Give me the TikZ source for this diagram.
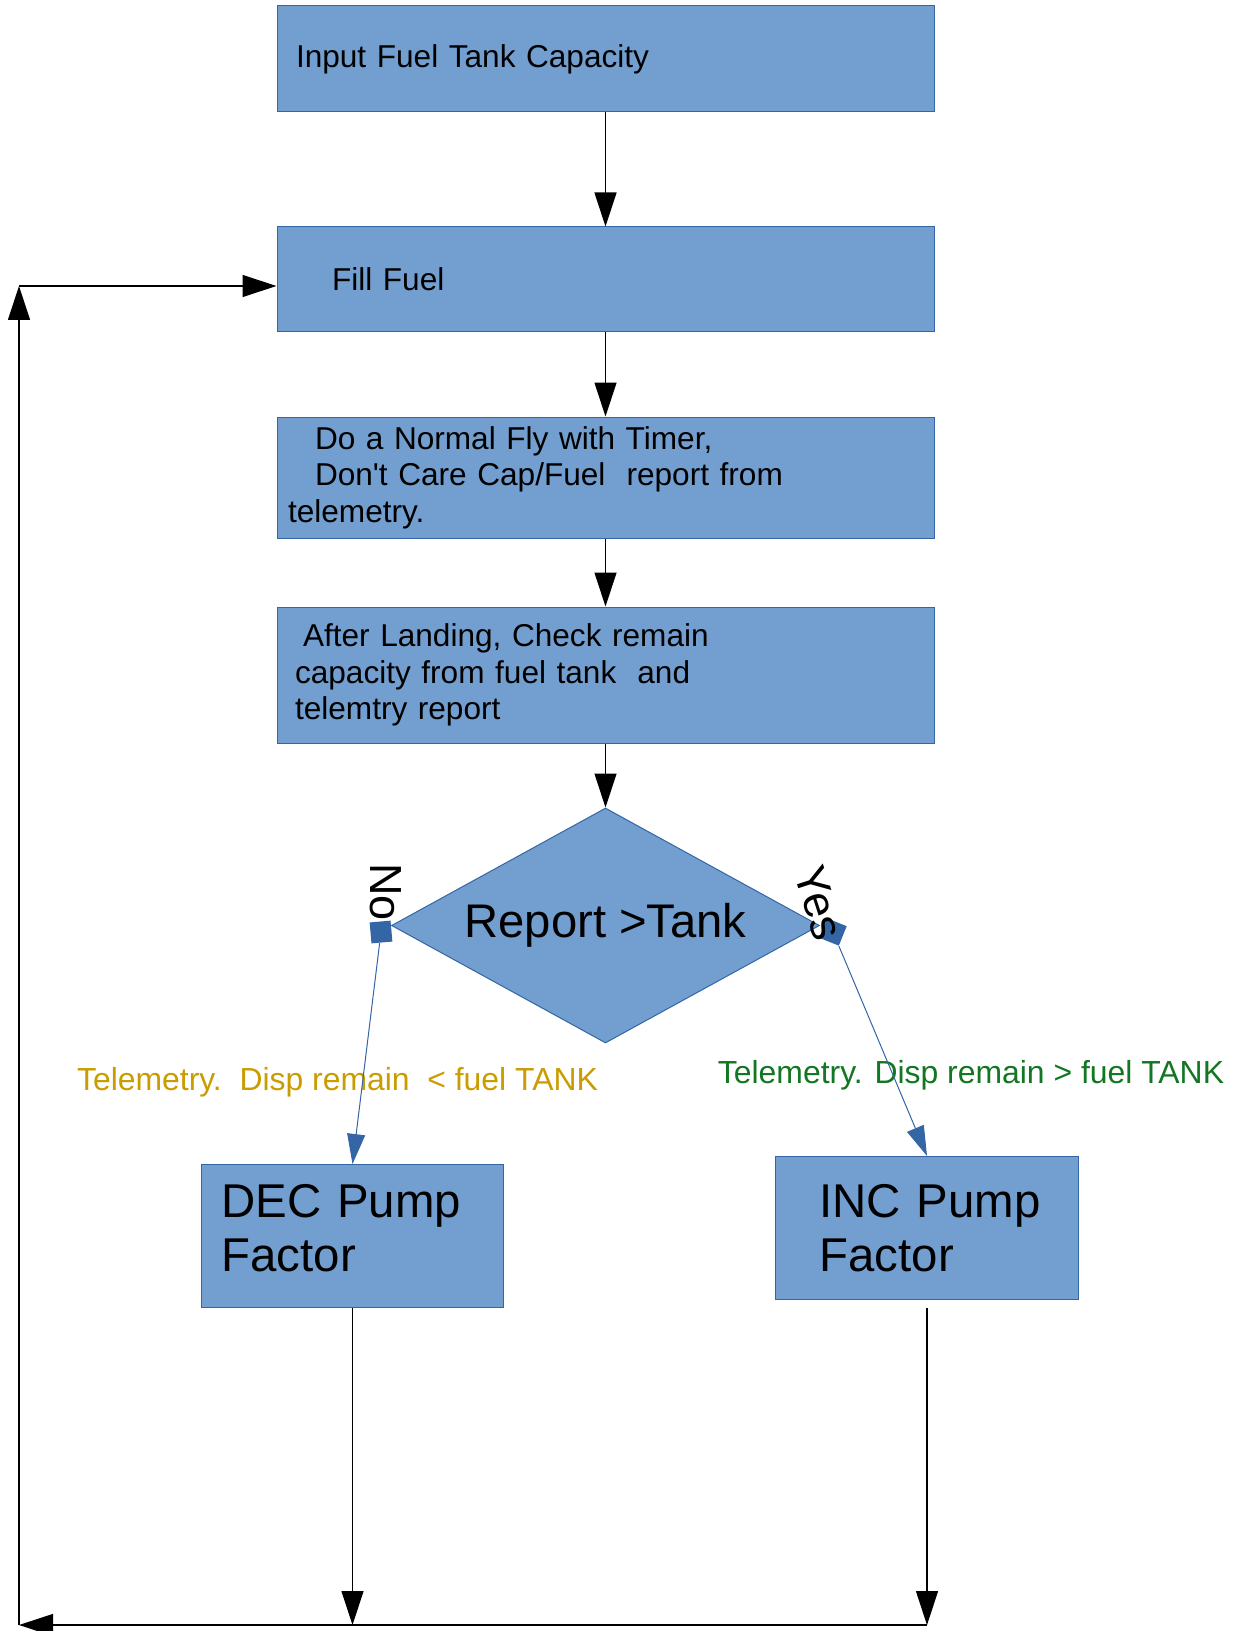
\documentclass[tikz,border=0pt]{standalone}
\usepackage{fontspec}
\newfontfamily\flowfont{Liberation Sans}
\usetikzlibrary{shapes.geometric}
\usetikzlibrary{arrows.meta}
\usetikzlibrary{positioning}
\definecolor{boxfill}{HTML}{729FCF}
\definecolor{boxline}{HTML}{3465A4}
\definecolor{nocolor}{HTML}{C99C00}
\definecolor{yescolor}{HTML}{127622}
\tikzset{
	action/.style={rectangle, draw=boxline, fill=boxfill, line width=0.5pt, align=left, inner ysep=2pt, minimum width=328.5pt, font=\flowfont\fontsize{15.8}{18.2}\selectfont},
	pump/.style={rectangle, draw=boxline, fill=boxfill, line width=0.5pt, align=left, minimum height=71.5pt, anchor=north west, font=\flowfont\fontsize{23.7}{27}\selectfont},
	decision/.style={diamond, draw=boxline, fill=boxfill, line width=0.5pt, aspect=1.79, inner sep=0pt, minimum width=214pt, minimum height=117.5pt, font=\flowfont\fontsize{23.6}{28}\selectfont},
	port/.style={rectangle, fill=boxline, inner sep=0pt, minimum size=10.5pt},
	answer/.style={font=\flowfont\fontsize{22.5}{27}\selectfont},
	remark/.style={font=\flowfont\fontsize{15.95}{19}\selectfont},
	arrow/.style={draw, line width=0.6pt, -{Triangle[length=17pt, width=11pt]}},
	link/.style={draw=boxline, line width=0.5pt, -{Triangle[length=15pt, width=9pt]}}
}

\begin{document}
\begin{tikzpicture}[x=0.5pt, y=-0.5pt]
\useasboundingbox (0,0) rectangle (1239,1631);

\node[action, minimum height=53pt, inner xsep=9.5pt, text width=309.5pt] (capacity) at (605.5,59) {Input Fuel Tank Capacity};

\node[action, minimum height=52.5pt, inner xsep=27.5pt, text width=273.5pt, below=57pt of capacity] (fill) {Fill Fuel};

\node[action, minimum height=60.5pt, inner xsep=5.5pt, text width=317.5pt, below=42pt of fill] (fly) {\hspace*{13.5pt}Do a Normal Fly with Timer,\\
	\hspace*{13.5pt}Don't Care Cap/Fuel\ \ report from\\telemetry.};

\node[action, minimum height=68pt, inner xsep=9pt, text width=310.5pt, below=34pt of fly] (check) {\hspace*{4pt}After Landing, Check remain\\
	capacity from fuel tank\ \ and\\telemtry report};

\node[decision, below=32pt of check] (compare) {Report >Tank};

\node[port, rotate=5] (noport) at (381,932) {};
\node[port, rotate=-22] (yesport) at (833,932) {};

\node[answer, rotate=-90] (nolabel) at (386,892) {No};
\node[answer, rotate=-72] (yeslabel) at (819,903) {Yes};

\node[remark, text=nocolor] (nonote) at (337.5,1082) {Telemetry.\ \ Disp remain\ \ < fuel TANK};
\node[remark, text=yescolor] (yesnote) at (971,1075) {Telemetry. Disp remain > fuel TANK};

\node[pump, minimum width=151pt, inner xsep=10pt, text width=131pt] (dec) at (201,1164) {DEC Pump\\Factor\\[-18.7pt]\mbox{}};
\node[pump, minimum width=151.5pt, inner xsep=22pt, text width=107.5pt] (inc) at (775,1156) {\mbox{INC Pump}\\Factor};

\coordinate (corner) at (19,1625);
\coordinate (topcorner) at (19,286);

\draw [arrow] (capacity) -- (fill);
\draw [arrow] (fill) -- (fly);
\draw [arrow] (fly) -- (check);
\draw [arrow] (check) -- (compare);
\draw [link] (noport) -- (dec.north);
\draw [link] (yesport) -- (inc.north);
\draw [arrow] (dec) -- (dec.south |- corner);
\draw [arrow] ([yshift=-4pt]inc.south) -- (inc.south |- corner);
\draw [arrow] (inc.south |- corner) -- (corner);
\draw [arrow] (corner) -- (topcorner);
\draw [arrow] (topcorner) -- (topcorner -| fill.west);

\end{tikzpicture}
\end{document}
